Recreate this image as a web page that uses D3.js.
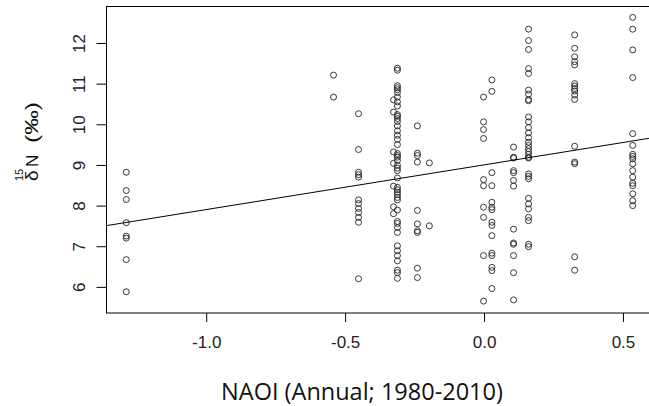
<!DOCTYPE html>
<html>
<head>
<meta charset="utf-8">
<script src="https://cdn.jsdelivr.net/npm/d3@7"></script>
<style>
  html, body { margin: 0; padding: 0; background: #fff; }
  svg { display: block; }
</style>
</head>
<body>
<svg id="chart" width="649" height="406"></svg>
<script>
// NAOI value of each column of points
const naoi = [-1.286, -0.54, -0.45, -0.31, -0.324, -0.238, -0.195, 0.0, 0.03, 0.108, 0.162, 0.328, 0.537];
// δ15N values (‰) at each NAOI column
const d15n = [
  [8.82, 8.37, 8.15, 7.58, 7.25, 7.2, 6.67, 5.88],
  [11.21, 10.67],
  [10.26, 9.38, 8.82, 8.76, 8.7, 8.14, 8.05, 7.93, 7.83, 7.71, 7.59, 6.2],
  [11.38, 11.33, 10.95, 10.9, 10.85, 10.78, 10.67, 10.55, 10.45, 10.24, 10.2, 10.14, 10.07, 9.96, 9.84, 9.73, 9.63, 9.5, 9.28, 9.23, 9.19, 9.11, 8.99, 8.92, 8.86, 8.68, 8.45, 8.39, 8.33, 8.27, 8.2, 8.14, 7.89, 7.61, 7.56, 7.46, 7.34, 7.01, 6.89, 6.77, 6.64, 6.41, 6.35, 6.21],
  [10.6, 10.3, 9.32, 9.04, 8.48, 7.97, 7.8],
  [9.96, 9.29, 9.23, 9.07, 7.88, 7.55, 7.38, 7.34, 6.46, 6.23],
  [9.05, 7.5],
  [10.67, 10.06, 9.87, 9.65, 8.64, 8.49, 7.96, 7.71, 6.77, 5.65],
  [11.09, 10.81, 8.81, 8.49, 8.08, 7.96, 7.9, 7.59, 7.51, 7.26, 6.83, 6.77, 6.48, 6.4, 5.96],
  [9.44, 9.19, 9.17, 8.86, 8.81, 8.62, 8.48, 7.42, 7.08, 7.05, 6.77, 6.35, 5.68],
  [12.34, 12.06, 11.84, 11.37, 11.25, 10.84, 10.74, 10.61, 10.58, 10.18, 10.06, 9.92, 9.79, 9.67, 9.56, 9.48, 9.4, 9.33, 9.26, 9.19, 9.17, 8.78, 8.72, 8.66, 8.18, 8.04, 7.92, 7.71, 7.63, 7.05, 6.99],
  [12.2, 11.87, 11.66, 11.54, 11.46, 11.0, 10.94, 10.88, 10.82, 10.72, 10.61, 9.46, 9.07, 9.03, 6.74, 6.41],
  [12.63, 12.34, 11.83, 11.15, 9.77, 9.48, 9.26, 9.21, 9.15, 9.03, 8.86, 8.7, 8.55, 8.49, 8.29, 8.12, 8.0]
];
// regression line: d15N = intercept + slope * NAOI
const fitIntercept = 9.0;
const fitSlope = 1.10;
const xTicks = [-1.0, -0.5, 0.0, 0.5];
const xTickLabels = ["-1.0", "-0.5", "0.0", "0.5"];
const yTicks = [6, 7, 8, 9, 10, 11, 12];
const xTitle = "NAOI (Annual; 1980-2010)";

const svg = d3.select("#chart");
const plot = { left: 106, right: 653, top: 6, bottom: 312.5 };
const xDomain = [-1.359, 0.61];
const yDomain = [5.37, 12.91];

const x = d3.scaleLinear().domain(xDomain).range([plot.left, plot.right]);
const y = d3.scaleLinear().domain(yDomain).range([plot.bottom, plot.top]);

const points = [];
naoi.forEach((nx, i) => d15n[i].forEach(v => points.push({ x: nx, y: v })));

// points
svg.append("g")
  .selectAll("circle")
  .data(points)
  .join("circle")
  .attr("cx", d => x(d.x))
  .attr("cy", d => y(d.y))
  .attr("r", 3)
  .attr("fill", "none")
  .attr("stroke", "#222")
  .attr("stroke-width", 0.9);

// regression line
svg.append("line")
  .attr("x1", x(xDomain[0])).attr("y1", y(fitIntercept + fitSlope * xDomain[0]))
  .attr("x2", x(xDomain[1])).attr("y2", y(fitIntercept + fitSlope * xDomain[1]))
  .attr("stroke", "#000").attr("stroke-width", 1);

// box
svg.append("rect")
  .attr("x", plot.left + 0.5).attr("y", plot.top + 0.5)
  .attr("width", plot.right - plot.left).attr("height", plot.bottom - plot.top)
  .attr("fill", "none").attr("stroke", "#000").attr("stroke-width", 1);

// x axis
const xAxis = d3.axisBottom(x).tickValues(xTicks)
  .tickFormat((d, i) => xTickLabels[i]).tickSize(9).tickPadding(14);
const gx = svg.append("g").attr("transform", `translate(0.5,${plot.bottom + 0.5})`).call(xAxis);
gx.select(".domain").remove();
gx.selectAll("line").attr("stroke", "#000");
gx.selectAll("text").attr("font-family", "Liberation Sans, Arial, sans-serif")
  .attr("font-size", 17).attr("fill", "#222");

// y axis
const yAxis = d3.axisLeft(y).tickValues(yTicks).tickFormat(d3.format("d")).tickSize(10);
const gy = svg.append("g").attr("transform", `translate(${plot.left + 0.5},0.5)`).call(yAxis);
gy.select(".domain").remove();
gy.selectAll("line").attr("stroke", "#000");
gy.selectAll(".tick").attr("transform", null);
gy.selectAll(".tick line").attr("transform", d => `translate(0,${y(d)})`);
gy.selectAll("text")
  .attr("font-family", "Liberation Sans, Arial, sans-serif")
  .attr("font-size", 17).attr("fill", "#222")
  .attr("text-anchor", "middle")
  .attr("x", 0).attr("y", 0).attr("dy", 0)
  .attr("transform", d => `translate(-22,${y(d)}) rotate(-90)`);

// x title
svg.append("text")
  .attr("x", 362).attr("y", 400)
  .attr("text-anchor", "middle")
  .attr("font-family", "Open Sans, sans-serif")
  .attr("font-size", 23.5)
  .attr("fill", "#111")
  .text(xTitle);

// y title: δ with superscript 15, then N (‰)
const yt = svg.append("g").attr("transform", "translate(38,181) rotate(-90)")
  .attr("font-family", "Liberation Sans, Arial, sans-serif").attr("fill", "#111");
yt.append("text").attr("x", 0).attr("y", 0).attr("font-size", 19).text("δ");
yt.append("text").attr("x", 0).attr("y", -15).attr("font-size", 11).text("15");
yt.append("text").attr("x", 14).attr("y", 0).attr("font-size", 17).text("N");
yt.append("text").attr("x", 38).attr("y", 0).attr("font-size", 18)
  .attr("textLength", 41).attr("lengthAdjust", "spacingAndGlyphs").text("(‰)");
</script>
</body>
</html>
